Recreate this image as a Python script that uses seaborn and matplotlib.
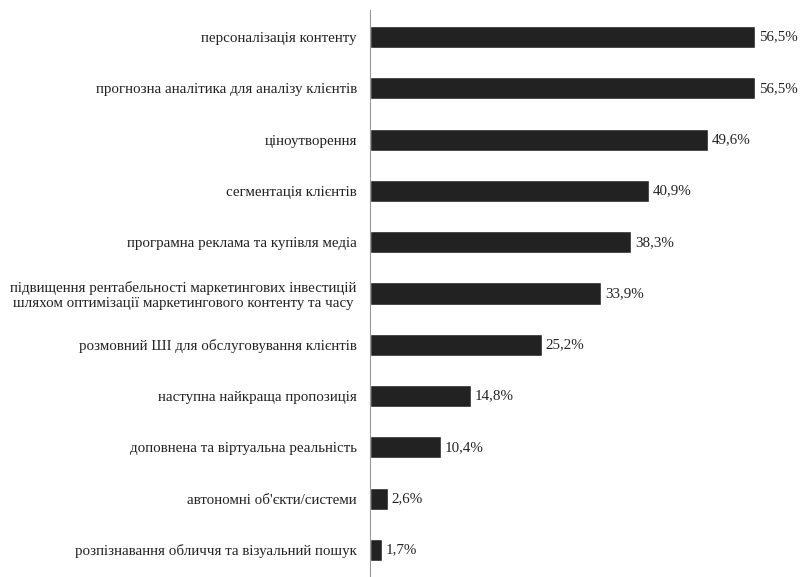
import matplotlib
matplotlib.use("Agg")
import matplotlib.pyplot as plt
import seaborn as sns
import pandas as pd
import numpy as np

# Data
categories = [
    "персоналізація контенту",
    "прогнозна аналітика для аналізу клієнтів",
    "ціноутворення",
    "сегментація клієнтів",
    "програмна реклама та купівля медіа",
    "підвищення рентабельності маркетингових інвестицій\nшляхом оптимізації маркетингового контенту та часу",
    "розмовний ШІ для обслуговування клієнтів",
    "наступна найкраща пропозиція",
    "доповнена та віртуальна реальність",
    "автономні об'єкти/системи",
    "розпізнавання обличчя та візуальний пошук",
]
values = [56.5, 56.5, 49.6, 40.9, 38.3, 33.9, 25.2, 14.8, 10.4, 2.6, 1.7]

df = pd.DataFrame({"category": categories, "value": values})

sns.set_style("white")
plt.rcParams["font.family"] = ["Liberation Serif", "DejaVu Serif"]

fig = plt.figure(figsize=(8.05, 5.77), dpi=100)
ax = fig.add_axes([370 / 805, 0.0, 0.98 - 370 / 805, 1 - 10 / 577])

sns.barplot(data=df, y="category", x="value", orient="h", color="#222222",
            width=0.43, saturation=1, ax=ax)

for i, v in enumerate(values):
    ax.text(v + 0.6, i, f"{v:.1f}%".replace(".", ","), va="center", ha="left",
            fontsize=10.8, color="#222222")

ax.set_xlim(0, 61.5)
ax.set_ylim(len(categories) - 0.47, -0.53)
ax.set_xlabel("")
ax.set_ylabel("")
ax.set_xticks([])
for s in ["top", "right", "bottom"]:
    ax.spines[s].set_visible(False)
ax.spines["left"].set_color("#999999")
ax.spines["left"].set_linewidth(0.8)

ax.tick_params(axis="y", which="major", length=0, pad=9.5, labelsize=10.8)
ax.set_yticks(np.arange(len(categories) + 1) - 0.5, minor=True)
ax.tick_params(axis="y", which="minor", length=3, color="#999999", width=0.8)
for lbl in ax.get_yticklabels():
    lbl.set_multialignment("center")
    lbl.set_color("#222222")

fig.savefig("out.png", dpi=100, facecolor="white")
